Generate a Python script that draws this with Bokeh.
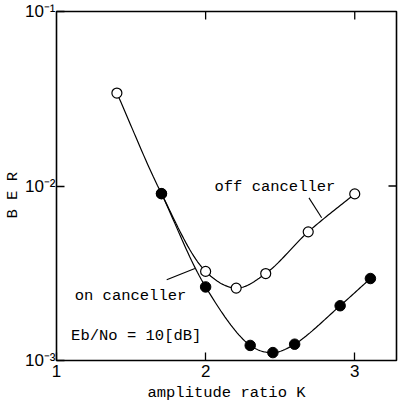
import numpy as np
from bokeh.plotting import figure
from bokeh.models import ColumnDataSource, Range1d, FixedTicker, CustomJSTickFormatter
from bokeh.core.properties import value
from bokeh.embed import file_html
from bokeh.resources import INLINE

# ---- data ----
off_k = [1.405, 1.704, 2.00, 2.205, 2.403, 2.688, 3.00]
off_ber = [0.0341, 0.00904, 0.00324, 0.00260, 0.00315, 0.00546, 0.00901]
on_k = [1.704, 2.00, 2.299, 2.451, 2.597, 2.902, 3.105]
on_ber = [0.00904, 0.00264, 0.00122, 0.00111, 0.00124, 0.00206, 0.00295]

x_ticks = [1, 2, 3]
y_ticks = [1e-3, 1e-2, 1e-1]
top_ticks = [2, 3]
right_ticks = [1e-2]

X_MIN, X_MAX = 1.0, 3.28
Y_MIN, Y_MAX = 1e-3, 1e-1

x_title = "amplitude ratio K"
y_title = "B  E  R"

# annotations
ann_text = ["off canceller", "on canceller", "Eb/No = 10[dB]"]
ann_x = [2.059, 1.122, 1.098]
ann_y = [0.00986, 0.00235, 0.00139]
lead_x0 = [2.693, 1.739]
lead_y0 = [0.00855, 0.00290]
lead_x1 = [2.778, 1.928]
lead_y1 = [0.00658, 0.00337]

SX, SY = 153.0, 176.0  # px per unit / per decade (for smooth curve shape)


def smooth(xs, ys, n=24):
    pts = np.column_stack([np.asarray(xs) * SX, np.log10(ys) * SY])
    P = np.vstack([2 * pts[0] - pts[1], pts, 2 * pts[-1] - pts[-2]])
    out = []
    for i in range(1, len(P) - 2):
        p0, p1, p2, p3 = P[i - 1], P[i], P[i + 1], P[i + 2]
        t0 = 0.0
        t1 = t0 + np.linalg.norm(p1 - p0) ** 0.5
        t2 = t1 + np.linalg.norm(p2 - p1) ** 0.5
        t3 = t2 + np.linalg.norm(p3 - p2) ** 0.5
        t = np.linspace(t1, t2, n)[:, None]
        A1 = (t1 - t) / (t1 - t0) * p0 + (t - t0) / (t1 - t0) * p1
        A2 = (t2 - t) / (t2 - t1) * p1 + (t - t1) / (t2 - t1) * p2
        A3 = (t3 - t) / (t3 - t2) * p2 + (t - t2) / (t3 - t2) * p3
        B1 = (t2 - t) / (t2 - t0) * A1 + (t - t0) / (t2 - t0) * A2
        B2 = (t3 - t) / (t3 - t1) * A2 + (t - t1) / (t3 - t1) * A3
        C = (t2 - t) / (t2 - t1) * B1 + (t - t1) / (t2 - t1) * B2
        out.append(C if i == 1 else C[1:])
    arr = np.vstack(out)
    return arr[:, 0] / SX, 10 ** (arr[:, 1] / SY)


p = figure(width=398, height=407,
           x_range=Range1d(X_MIN, X_MAX), y_range=Range1d(Y_MIN, Y_MAX),
           y_axis_type="log", output_backend="svg", toolbar_location=None,
           min_border_left=52, min_border_top=11, min_border_right=2,
           min_border_bottom=47)
p.grid.visible = False
p.background_fill_color = "white"
p.border_fill_color = "white"
p.outline_line_color = "black"
p.outline_line_width = 1.6

MONO = "Liberation Mono"

xa = p.xaxis[0]
xa.ticker = FixedTicker(ticks=x_ticks)
xa.axis_line_color = None
xa.major_tick_in = 8
xa.major_tick_out = 0
xa.minor_tick_line_color = None
xa.major_tick_line_color = "black"
xa.major_tick_line_width = 1.3
xa.major_label_text_font = "Liberation Sans"
xa.major_label_text_font_size = "17px"
xa.major_label_text_color = "black"
xa.major_label_standoff = 4
xa.axis_label = x_title
xa.axis_label_text_font = MONO
xa.axis_label_text_font_size = "15.5px"
xa.axis_label_text_font_style = "normal"
xa.axis_label_text_color = "black"
xa.axis_label_standoff = 4

ya = p.yaxis[0]
ya.ticker = FixedTicker(ticks=y_ticks)
ya.formatter = CustomJSTickFormatter(code="""
const sup = {"-": "\u207b", "0": "\u2070", "1": "\u00b9", "2": "\u00b2",
             "3": "\u00b3", "4": "\u2074", "5": "\u2075"};
const e = Math.round(Math.log10(tick));
return "10" + String(e).split("").map(c => sup[c]).join("");
""")
ya.axis_line_color = None
ya.major_tick_in = 8
ya.major_tick_out = 0
ya.minor_tick_line_color = None
ya.major_tick_line_color = "black"
ya.major_tick_line_width = 1.3
ya.major_label_text_font = "Liberation Sans"
ya.major_label_text_font_size = "17px"
ya.major_label_text_color = "black"
ya.major_label_standoff = 1
ya.axis_label = y_title
ya.axis_label_text_font = MONO
ya.axis_label_text_font_size = "15.5px"
ya.axis_label_text_font_style = "normal"
ya.axis_label_text_color = "black"
ya.axis_label_standoff = 0

# inward ticks on the top and right frame edges
p.ray(x=top_ticks, y=[Y_MAX] * len(top_ticks), length=8, angle=-np.pi / 2,
      length_units="screen", line_color="black", line_width=1.3)
p.ray(x=[X_MAX] * len(right_ticks), y=right_ticks, length=8, angle=np.pi,
      length_units="screen", line_color="black", line_width=1.3)

# curves
ox, oy = smooth(off_k, off_ber)
nx, ny = smooth(on_k, on_ber)
p.line(ox, oy, line_color="black", line_width=1.2)
p.line(nx, ny, line_color="black", line_width=1.2)

# leader lines
p.segment(x0=lead_x0, y0=lead_y0, x1=lead_x1, y1=lead_y1,
          line_color="black", line_width=1.1)

# markers
p.scatter(off_k, off_ber, marker="circle", size=10, fill_color="white",
          line_color="black", line_width=1.2)
p.scatter(on_k, on_ber, marker="circle", size=10.5, fill_color="black",
          line_color="black", line_width=1.0)

src = ColumnDataSource(dict(x=ann_x, y=ann_y, t=ann_text))
p.text(x="x", y="y", text="t", source=src, text_font=value(MONO),
       text_font_size="15.5px", text_baseline="middle", text_align="left",
       text_color="black")

open("out.html", "w").write(file_html(p, INLINE))
